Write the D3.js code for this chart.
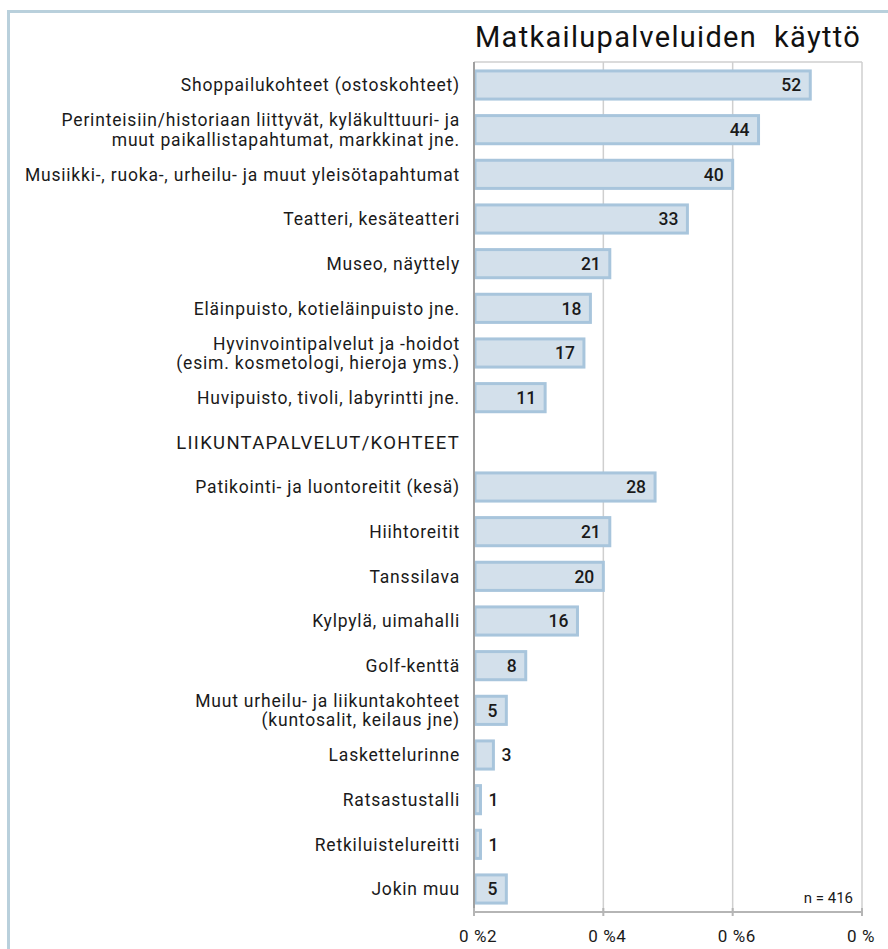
<!DOCTYPE html>
<html>
<head>
<meta charset="utf-8">
<script src="https://cdn.jsdelivr.net/npm/d3@7"></script>
<style>
  body { margin: 0; background: #fff; }
  svg { display: block; font-family: Roboto, "DejaVu Sans", sans-serif; }
</style>
</head>
<body>
<svg id="chart" width="888" height="949"></svg>
<script>
// chart data
var title = "Matkailupalveluiden  käyttö";
var categories = [
  "Shoppailukohteet (ostoskohteet)",
  "Perinteisiin/historiaan liittyvät, kyläkulttuuri- ja\nmuut paikallistapahtumat, markkinat jne.",
  "Musiikki-, ruoka-, urheilu- ja muut yleisötapahtumat",
  "Teatteri, kesäteatteri",
  "Museo, näyttely",
  "Eläinpuisto, kotieläinpuisto jne.",
  "Hyvinvointipalvelut ja -hoidot\n(esim. kosmetologi, hieroja yms.)",
  "Huvipuisto, tivoli, labyrintti jne.",
  "LIIKUNTAPALVELUT/KOHTEET",
  "Patikointi- ja luontoreitit (kesä)",
  "Hiihtoreitit",
  "Tanssilava",
  "Kylpylä, uimahalli",
  "Golf-kenttä",
  "Muut urheilu- ja liikuntakohteet\n(kuntosalit, keilaus jne)",
  "Laskettelurinne",
  "Ratsastustalli",
  "Retkiluistelureitti",
  "Jokin muu"
];
var values = [52, 44, 40, 33, 21, 18, 17, 11, null, 28, 21, 20, 16, 8, 5, 3, 1, 1, 5];
var tickValues = [0, 20, 40, 60];
var tickLabels = ["0 %2", "0 %4", "0 %6", "0 %"];
var note = "n = 416";

var data = categories.map(function(c, i) { return {cat: c, v: values[i], i: i}; });

var svg = d3.select("#chart");

var pLeft = 474, pRight = 862, pTop = 62, pBottom = 912;

var x = d3.scaleLinear().domain([0, 60]).range([pLeft, pRight]);
var y = d3.scaleBand()
    .domain(d3.range(categories.length))
    .range([pTop, pBottom])
    .paddingInner(0.37)
    .paddingOuter(0.2)
    .align(0.5);

// outer frame
svg.append("line").attr("x1", 8).attr("x2", 888).attr("y1", 11.5).attr("y2", 11.5)
  .attr("stroke", "#b9d0dc").attr("stroke-width", 3);
svg.append("line").attr("x1", 8.5).attr("x2", 8.5).attr("y1", 10).attr("y2", 949)
  .attr("stroke", "#b9d0dc").attr("stroke-width", 3);

// title
svg.append("text")
  .attr("x", 475).attr("y", 47)
  .attr("font-size", 29)
  .attr("letter-spacing", 1.3)
  .attr("fill", "#111")
  .style("white-space", "pre")
  .text(title);

// grid
svg.append("g").selectAll("line")
  .data(tickValues.slice(1))
  .enter().append("line")
  .attr("x1", function(d) { return x(d); })
  .attr("x2", function(d) { return x(d); })
  .attr("y1", pTop).attr("y2", pBottom)
  .attr("stroke", "#cfcfcf").attr("stroke-width", 1.5);
svg.append("line").attr("x1", pLeft).attr("x2", pRight).attr("y1", pTop).attr("y2", pTop)
  .attr("stroke", "#cfcfcf").attr("stroke-width", 1.5);

// bars
var bar = svg.append("g").selectAll("g")
  .data(data.filter(function(d) { return d.v != null; }))
  .enter().append("g");

bar.append("rect")
  .attr("x", x(0) + 1)
  .attr("y", function(d) { return y(d.i); })
  .attr("width", function(d) { return Math.max(x(d.v) - x(0) - 1, 2); })
  .attr("height", y.bandwidth())
  .attr("fill", "#d3e0eb")
  .attr("stroke", "#a8c5dc")
  .attr("stroke-width", 3);

bar.append("text")
  .attr("x", function(d) { return d.v >= 4 ? x(d.v) - 9 : x(d.v) + 8; })
  .attr("y", function(d) { return y(d.i) + y.bandwidth() / 2; })
  .attr("dy", ".36em")
  .attr("text-anchor", function(d) { return d.v >= 4 ? "end" : "start"; })
  .attr("font-size", 17.5)
  .attr("font-weight", 500)
  .attr("fill", "#1a1a1a")
  .text(function(d) { return d.v; });

// category labels
var lab = svg.append("g").selectAll("text")
  .data(data)
  .enter().append("text")
  .attr("text-anchor", "end")
  .attr("font-size", function(d) { return d.v == null ? 18.5 : 17.5; })
  .attr("letter-spacing", function(d) { return d.v == null ? 1.3 : 0.8; })
  .attr("fill", "#1a1a1a")
  .attr("y", function(d) { return y(d.i) + y.bandwidth() / 2; });

lab.each(function(d) {
  var lines = d.cat.split("\n");
  var t = d3.select(this);
  lines.forEach(function(l, k) {
    t.append("tspan")
      .attr("x", 460)
      .attr("dy", k == 0 ? (0.36 - (lines.length - 1) * 0.56) + "em" : "1.12em")
      .text(l);
  });
});

// axis
svg.append("line").attr("x1", pLeft).attr("x2", pLeft).attr("y1", pTop).attr("y2", pBottom + 4)
  .attr("stroke", "#a0a0a0").attr("stroke-width", 2);
svg.append("line").attr("x1", pLeft).attr("x2", pRight).attr("y1", pBottom).attr("y2", pBottom)
  .attr("stroke", "#b5b5b5").attr("stroke-width", 2);
svg.append("g").selectAll("line")
  .data(tickValues)
  .enter().append("line")
  .attr("x1", function(d) { return x(d); })
  .attr("x2", function(d) { return x(d); })
  .attr("y1", pBottom - 4).attr("y2", pBottom + 4)
  .attr("stroke", "#b5b5b5").attr("stroke-width", 2);

svg.append("g").selectAll("text")
  .data(tickValues)
  .enter().append("text")
  .attr("x", function(d) { return x(d) - 15; })
  .attr("y", 942)
  .attr("font-size", 17)
  .attr("letter-spacing", 0.6)
  .attr("fill", "#1a1a1a")
  .style("white-space", "pre")
  .text(function(d, i) { return tickLabels[i]; });

svg.append("text")
  .attr("x", 853).attr("y", 903)
  .attr("text-anchor", "end")
  .attr("font-size", 15)
  .attr("fill", "#1a1a1a")
  .text(note);
</script>
</body>
</html>
